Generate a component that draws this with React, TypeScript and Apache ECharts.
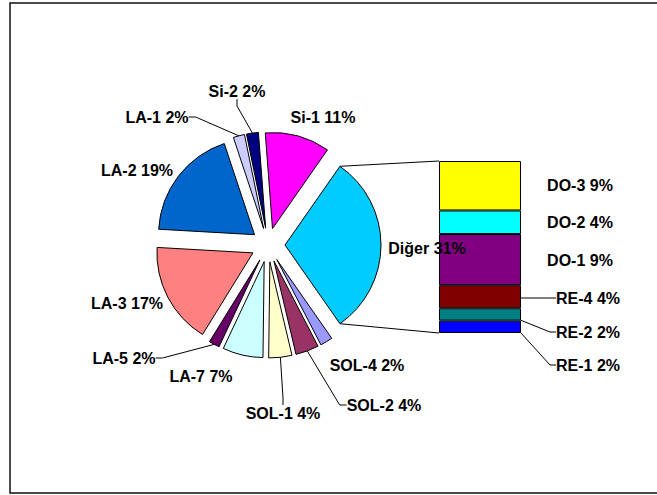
import React, { useEffect, useRef } from 'react';
import * as echarts from 'echarts';

// ---- data ----
const pieNames = ['Diğer', 'SOL-4', 'SOL-2', 'SOL-1', 'LA-7', 'LA-5', 'LA-3', 'LA-2', 'LA-1', 'Si-2', 'Si-1'];
const pieOtherValues = [2.1, 3.9, 3.9, 6.8, 1.8, 17.1, 19.0, 1.9, 2.0, 10.9];
const barNames = ['RE-1', 'RE-2', 'RE-4', 'DO-1', 'DO-2', 'DO-3'];
const barValues = [2.2, 2.2, 4.1, 9.1, 4.2, 8.8];

// ---- styles ----
const pieColors = ['#00CCFF', '#9999FF', '#993366', '#FFFFCC', '#CCFFFF', '#660066', '#FF8080', '#0066CC', '#CCCCFF', '#000080', '#FF00FF'];
const barColors = ['#0000FF', '#008080', '#800000', '#800080', '#00FFFF', '#FFFF00'];
const pieLeader = [false, false, true, true, false, true, false, false, true, true, false];
const barLeader = [true, true, true, false, false, false];

// label centre positions (layout)
const pieLabelPos: Record<string, [number, number]> = {
  'Diğer': [427, 248], 'SOL-4': [367, 365], 'SOL-2': [384, 405], 'SOL-1': [283, 413],
  'LA-7': [201, 376], 'LA-5': [124, 358], 'LA-3': [127, 303], 'LA-2': [137, 170],
  'LA-1': [157, 117], 'Si-2': [237, 91], 'Si-1': [323, 117],
};
const barLabelPos: Record<string, [number, number]> = {
  'DO-3': [580, 185], 'DO-2': [580, 222], 'DO-1': [580, 260],
  'RE-4': [588, 298], 'RE-2': [588, 332], 'RE-1': [588, 365],
};

const PIE_CENTER: [number, number] = [268, 245];
const PIE_R = 96;
const EXPLODE = 17;
const GRID = { left: 439, top: 161, width: 82, height: 172 };
const FONT = { fontFamily: 'Liberation Sans, Arial, sans-serif', fontWeight: 'bold' as const, fontSize: 16, color: '#000' };

export default function App() {
  const ref = useRef<HTMLDivElement>(null);
  useEffect(() => {
    document.body.style.margin = '0';
    const chart = echarts.init(ref.current!, undefined, { renderer: 'svg' });
    const digerValue = barValues.reduce((a, b) => a + b, 0);
    const pieValues = [digerValue, ...pieOtherValues];
    const total = pieValues.reduce((a, b) => a + b, 0);
    const pct = (v: number) => Math.round((v / total) * 100) + '%';
    const startAngle = (digerValue / total) * 180;
    const frame = { type: 'rect', id: 'frame', shape: { x: 10, y: 3, width: 700, height: 490 }, style: { fill: 'none', stroke: '#111', lineWidth: 1.5 }, z: 0 };

    const option: any = {
      animation: false,
      backgroundColor: '#fff',
      grid: { ...GRID },
      xAxis: { type: 'category', data: ['Diğer'], show: false },
      yAxis: { type: 'value', min: 0, max: digerValue, show: false },
      graphic: [frame],
      series: [
        ...barNames.map((n, i) => ({
          type: 'bar', name: n, stack: 'd', barWidth: '100%', z: 2,
          data: [barValues[i]],
          itemStyle: { color: barColors[i], borderColor: '#000', borderWidth: 1 },
          label: { show: true, position: 'right', ...FONT, formatter: () => `${n} ${pct(barValues[i])}` },
          labelLine: { show: barLeader[i], lineStyle: { color: '#000', width: 1 }, length2: 6 },
          labelLayout: () => ({ x: barLabelPos[n][0], y: barLabelPos[n][1], align: 'center', verticalAlign: 'middle' }),
        })),
        // visible, exploded slices
        {
          type: 'pie', z: 3,
          center: PIE_CENTER, radius: PIE_R, startAngle, clockwise: true,
          selectedMode: 'multiple', selectedOffset: EXPLODE,
          label: { show: false }, labelLine: { show: false },
          itemStyle: { borderColor: '#000', borderWidth: 1 },
          emphasis: { disabled: true },
          data: pieNames.map((n, i) => ({
            name: n, value: pieValues[i], selected: true,
            itemStyle: { color: pieColors[i] },
          })),
        },
        // label carrier: same angles, radius reaching the exploded outer edge
        {
          type: 'pie', z: 4, silent: true,
          center: PIE_CENTER, radius: PIE_R + EXPLODE, startAngle, clockwise: true,
          avoidLabelOverlap: false,
          label: { show: true, position: 'outside', ...FONT, formatter: (p: any) => `${p.name} ${pct(p.value)}` },
          labelLine: { show: false, length: 4, length2: 7, lineStyle: { color: '#000', width: 1 } },
          labelLayout: (p: any) => {
            const pos = pieLabelPos[pieNames[p.dataIndex]];
            return { x: pos[0], y: pos[1], align: 'center', verticalAlign: 'middle' };
          },
          itemStyle: { color: 'rgba(0,0,0,0)', borderWidth: 0 },
          emphasis: { disabled: true },
          data: pieNames.map((n, i) => ({
            name: n, value: pieValues[i],
            labelLine: { show: pieLeader[i], length2: 7 },
          })),
        },
      ],
    };
    chart.setOption(option);

    const rad = (startAngle * Math.PI) / 180;
    const cx = PIE_CENTER[0] + EXPLODE;
    const pTop = [cx + PIE_R * Math.cos(rad), PIE_CENTER[1] - PIE_R * Math.sin(rad)];
    const pBot = [cx + PIE_R * Math.cos(rad), PIE_CENTER[1] + PIE_R * Math.sin(rad)];
    const barTop = chart.convertToPixel({ xAxisIndex: 0, yAxisIndex: 0 }, ['Diğer', digerValue]) as number[];
    const barBot = chart.convertToPixel({ xAxisIndex: 0, yAxisIndex: 0 }, ['Diğer', 0]) as number[];
    const barLeft = GRID.left;
    chart.setOption({
      graphic: [
        frame,
        { type: 'line', id: 'c1', shape: { x1: pTop[0], y1: pTop[1], x2: barLeft, y2: barTop[1] }, style: { stroke: '#000', lineWidth: 1 }, z: 1 },
        { type: 'line', id: 'c2', shape: { x1: pBot[0], y1: pBot[1], x2: barLeft, y2: barBot[1] }, style: { stroke: '#000', lineWidth: 1 }, z: 1 },
      ],
    });
    return () => chart.dispose();
  }, []);
  return <div ref={ref} style={{ width: 657, height: 495 }} />;
}
